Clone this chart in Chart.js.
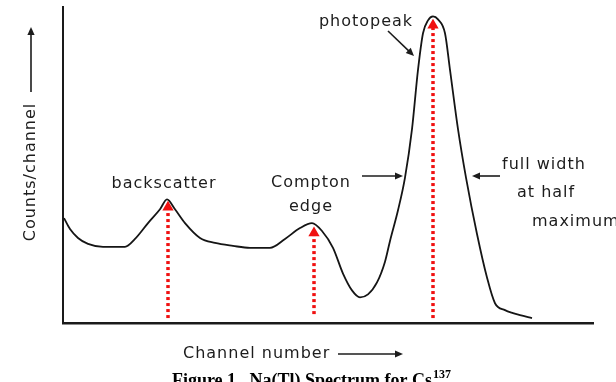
<!DOCTYPE html>
<html><head><meta charset="utf-8">
<script src="https://cdn.jsdelivr.net/npm/chart.js@4/dist/chart.umd.min.js"></script>
<style>html,body{margin:0;padding:0;background:#fff;}#wrap{width:616px;height:382px;}</style>
</head><body><div id="wrap"><canvas id="c" width="616" height="382"></canvas></div>
<script>
// Spectrum (channel number vs counts/channel)
const channels = [1,7,15,25,40,62,72,85,97,104,112,122,137,152,170,187,207,222,237,249,259,270,280,289,297,305,314,322,327,335,342,349,355,360,365,370,375,382,387,395,403,414,424,432,442,450,457,469];
const counts   = [106,95,86,80,77,77,85,101,115,125,115,101,86,81,78,76,76,85,96,101,93,76,50,33,26,29,41,62,83,114,147,196,256,293,306,310,307,293,256,196,147,90,46,20,13,10,8,5];

// Red marker arrows for the three features
const peakNames    = ['backscatter', 'Compton edge', 'photopeak'];
const peakChannels = [105, 251, 370];
const peakHeads    = [117, 91, 301];
const peakBases    = [5, 9, 5];

const spectrum = channels.map((c, i) => ({x: c, y: counts[i]}));
const arrowSets = peakNames.map((n, i) => ({
  label: n,
  data: [{x: peakChannels[i], y: peakBases[i]}, {x: peakChannels[i], y: peakHeads[i]}],
  borderColor: '#f01010',
  backgroundColor: '#f01010',
  borderWidth: 3.5,
  borderDash: [3, 3],
  borderCapStyle: 'butt',
  pointStyle: 'triangle',
  pointRadius: [0, 6.5],
  pointBorderWidth: 0,
  showLine: true,
  order: 0
}));

function arrow(ctx, x1, y1, x2, y2, h) {
  const a = Math.atan2(y2 - y1, x2 - x1);
  ctx.beginPath(); ctx.moveTo(x1, y1); ctx.lineTo(x2 - Math.cos(a) * h * 0.6, y2 - Math.sin(a) * h * 0.6); ctx.stroke();
  ctx.beginPath();
  ctx.moveTo(x2, y2);
  ctx.lineTo(x2 - h * Math.cos(a) + h * 0.45 * Math.sin(a), y2 - h * Math.sin(a) - h * 0.45 * Math.cos(a));
  ctx.lineTo(x2 - h * Math.cos(a) - h * 0.45 * Math.sin(a), y2 - h * Math.sin(a) + h * 0.45 * Math.cos(a));
  ctx.closePath(); ctx.fill();
}

const annot = {
  id: 'annot',
  afterDraw(chart) {
    const ctx = chart.ctx;
    ctx.save();
    ctx.fillStyle = '#1c1c1c';
    ctx.strokeStyle = '#1c1c1c';
    ctx.lineWidth = 1.6;
    ctx.font = '16px "DejaVu Sans"';
    try { ctx.letterSpacing = '1px'; } catch (e) {}
    ctx.textBaseline = 'middle';
    ctx.textAlign = 'center';
    ctx.fillText('photopeak', 366, 22);
    ctx.fillText('backscatter', 164, 184);
    ctx.fillText('Compton', 311, 183);
    ctx.fillText('edge', 311, 207);
    ctx.textAlign = 'left';
    ctx.fillText('full width', 502, 165);
    ctx.fillText('at half', 517, 193);
    ctx.fillText('maximum', 532, 222);
    ctx.fillText('Channel number', 183, 354);
    ctx.save();
    ctx.translate(31, 172);
    ctx.rotate(-Math.PI / 2);
    ctx.textAlign = 'center';
    ctx.fillText('Counts/channel', 0, 0);
    ctx.restore();
    arrow(ctx, 388, 31, 414, 56, 8);
    arrow(ctx, 362, 176, 403, 176, 8);
    arrow(ctx, 500, 176, 472, 176, 8);
    arrow(ctx, 31, 92, 31, 27, 8);
    arrow(ctx, 338, 354, 403, 354, 8);
    // caption
    try { ctx.letterSpacing = '0px'; } catch (e) {}
    ctx.fillStyle = '#000';
    ctx.textBaseline = 'alphabetic';
    ctx.font = 'bold 18px "Liberation Serif"';
    const main = 'Figure 1.  Na(Tl) Spectrum for Cs';
    const w1 = ctx.measureText(main).width;
    ctx.font = 'bold 12px "Liberation Serif"';
    const w2 = ctx.measureText('137').width;
    const x0 = 311 - (w1 + w2) / 2;
    ctx.font = 'bold 18px "Liberation Serif"';
    ctx.fillText(main, x0, 386);
    ctx.font = 'bold 12px "Liberation Serif"';
    ctx.fillText('137', x0 + w1 + 1, 378);
    ctx.restore();
  }
};

new Chart(document.getElementById('c'), {
  type: 'scatter',
  data: {
    datasets: [
      ...arrowSets,
      {
        label: 'Spectrum',
        data: spectrum,
        showLine: true,
        borderColor: '#151515',
        borderWidth: 1.8,
        pointRadius: 0,
        cubicInterpolationMode: 'monotone',
        fill: false,
        order: 1
      }
    ]
  },
  options: {
    responsive: false,
    devicePixelRatio: 1,
    animation: false,
    layout: { padding: { left: 63, right: 23, top: 3, bottom: 59 } },
    plugins: { legend: { display: false }, tooltip: { enabled: false }, title: { display: false } },
    scales: {
      x: {
        type: 'linear', min: 0, max: 530,
        ticks: { display: false },
        grid: { display: false, drawTicks: false },
        border: { display: true, color: '#1a1a1a', width: 2.5 }
      },
      y: {
        type: 'linear', min: 0, max: 320,
        ticks: { display: false },
        grid: { display: false, drawTicks: false },
        border: { display: true, color: '#1a1a1a', width: 2 }
      }
    }
  },
  plugins: [annot]
});
</script>
</body></html>
